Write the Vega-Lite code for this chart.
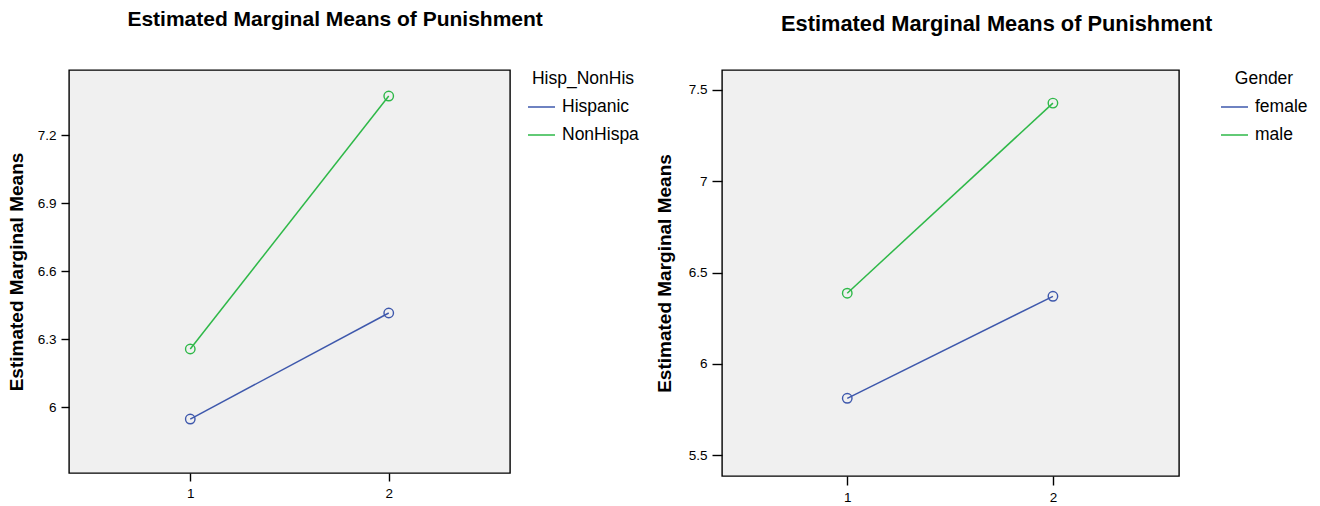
{
  "$schema": "https://vega.github.io/schema/vega-lite/v6.json",
  "background": "white",
  "padding": {"left": 6, "top": 8, "right": 0, "bottom": 0},
  "datasets": {
    "hisp": [
      {"Group": 1, "Mean": 5.948, "Hisp_NonHispanic": "Hispanic"},
      {"Group": 2, "Mean": 6.416, "Hisp_NonHispanic": "Hispanic"},
      {"Group": 1, "Mean": 6.257, "Hisp_NonHispanic": "NonHispanic"},
      {"Group": 2, "Mean": 7.373, "Hisp_NonHispanic": "NonHispanic"}
    ],
    "gender": [
      {"Group": 1, "Mean": 5.812, "Gender": "female"},
      {"Group": 2, "Mean": 6.370, "Gender": "female"},
      {"Group": 1, "Mean": 6.387, "Gender": "male"},
      {"Group": 2, "Mean": 7.427, "Gender": "male"}
    ]
  },
  "spacing": 14,
  "resolve": {"scale": {"color": "independent", "x": "independent", "y": "independent"}, "legend": {"color": "independent"}},
  "hconcat": [
    {
      "title": {"text": "Estimated Marginal Means of Punishment", "dx": 12, "fontSize": 21, "offset": 40},
      "width": 441,
      "height": 403,
      "data": {"name": "hisp"},
      "encoding": {
        "x": {"field": "Group", "type": "quantitative", "scale": {"domain": [0.389, 2.611], "nice": false, "zero": false}, "axis": {"values": [1, 2], "title": null, "tickSize": 8}},
        "y": {"field": "Mean", "type": "quantitative", "scale": {"domain": [5.71, 7.488], "nice": false, "zero": false}, "axis": {"values": [6, 6.3, 6.6, 6.9, 7.2], "format": "~g", "title": "Estimated Marginal Means", "tickSize": 8, "titlePadding": 11}},
        "color": {"field": "Hisp_NonHispanic", "type": "nominal", "scale": {"domain": ["Hispanic", "NonHispanic"], "range": ["#3e58ac", "#2eb848"]}, "legend": {"title": "Hisp_NonHis", "offset": 17, "labelExpr": "datum.label == 'NonHispanic' ? 'NonHispa' : datum.label"}}
      },
      "layer": [
        {"mark": {"type": "line", "strokeWidth": 1.5}},
        {"mark": {"type": "point", "filled": false, "shape": "circle", "size": 90, "strokeWidth": 1.4, "opacity": 1}}
      ]
    },
    {
      "title": {"text": "Estimated Marginal Means of Punishment", "dx": 15, "fontSize": 21.8, "offset": 34},
      "width": 457,
      "height": 406,
      "data": {"name": "gender"},
      "encoding": {
        "x": {"field": "Group", "type": "quantitative", "scale": {"domain": [0.391, 2.613], "nice": false, "zero": false}, "axis": {"values": [1, 2], "title": null, "tickSize": 9}},
        "y": {"field": "Mean", "type": "quantitative", "scale": {"domain": [5.387, 7.608], "nice": false, "zero": false}, "axis": {"values": [5.5, 6, 6.5, 7, 7.5], "format": "~g", "title": "Estimated Marginal Means", "tickSize": 10, "titlePadding": 14}},
        "color": {"field": "Gender", "type": "nominal", "scale": {"domain": ["female", "male"], "range": ["#3e58ac", "#2eb848"]}, "legend": {"title": "Gender", "offset": 41}}
      },
      "layer": [
        {"mark": {"type": "line", "strokeWidth": 1.5}},
        {"mark": {"type": "point", "filled": false, "shape": "circle", "size": 90, "strokeWidth": 1.4, "opacity": 1}}
      ]
    }
  ],
  "config": {
    "font": "Liberation Sans",
    "view": {"stroke": "black", "strokeWidth": 1.4, "fill": "#f0f0f0"},
    "title": {"fontSize": 21, "fontWeight": "bold", "color": "black", "frame": "bounds", "anchor": "middle", "offset": 36},
    "axis": {
      "domain": false,
      "grid": false,
      "tickColor": "black",
      "tickWidth": 1.4,
      "labelFontSize": 13.5,
      "labelColor": "black",
      "labelPadding": 5,
      "titleFontSize": 19,
      "titleFontWeight": "bold",
      "titleColor": "black"
    },
    "legend": {
      "orient": "right",
      "symbolType": "stroke",
      "symbolSize": 729,
      "symbolStrokeWidth": 1.5,
      "labelFontSize": 17.5,
      "labelColor": "black",
      "labelOffset": 6,
      "titleFontSize": 17.5,
      "titleFontWeight": "normal",
      "titleColor": "black",
      "titleAnchor": "middle",
      "titlePadding": 5,
      "rowPadding": 5,
      "labelLimit": 300
    }
  }
}
